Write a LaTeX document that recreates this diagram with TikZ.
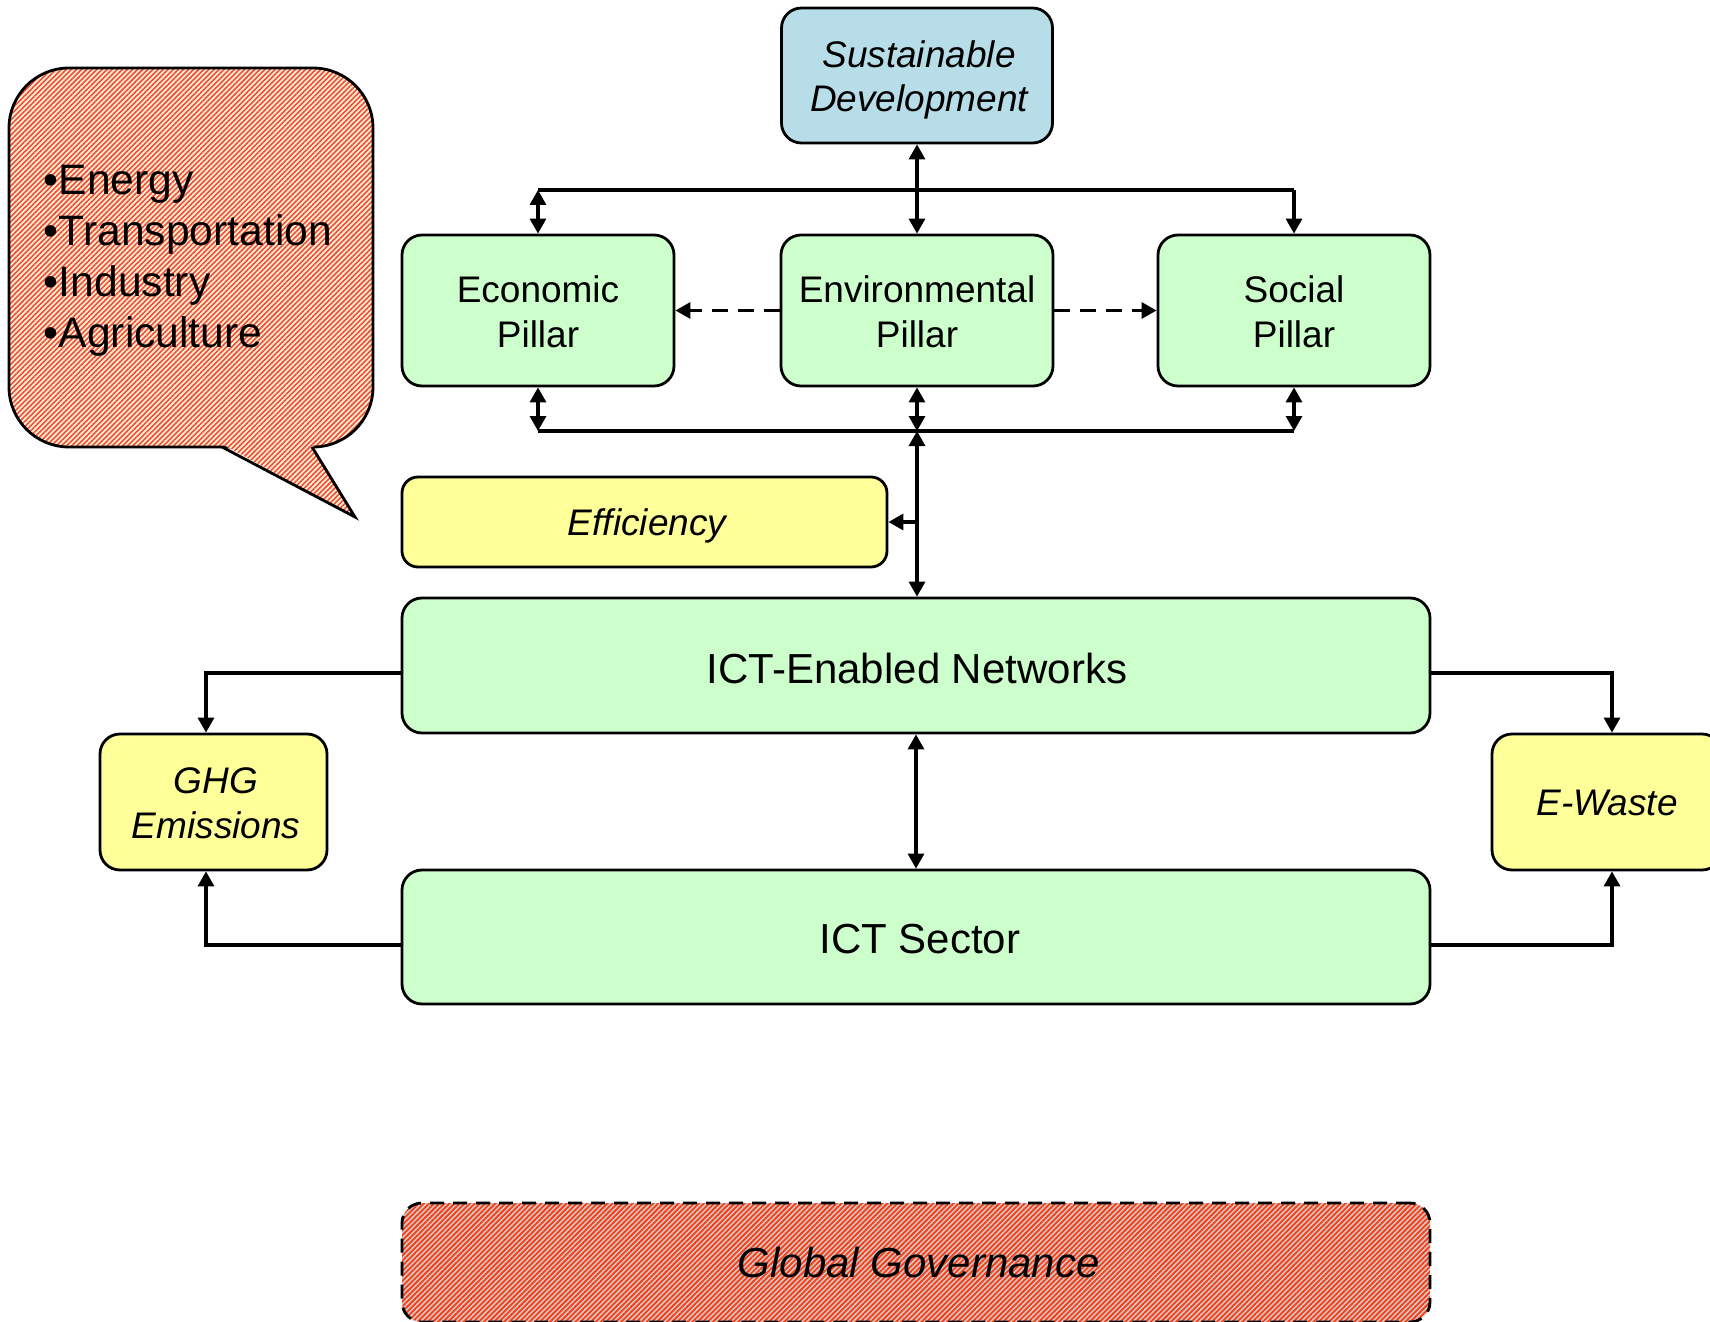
\documentclass[tikz,border=0pt]{standalone}
\usepackage{fontspec}
\setmainfont{Liberation Sans}
\usetikzlibrary{arrows.meta,patterns.meta}
\definecolor{sdblue}{HTML}{B7DEE8}
\definecolor{pgreen}{HTML}{CCFFCC}
\definecolor{pyellow}{HTML}{FFFF99}
\definecolor{stripeA}{HTML}{F04A48}
\definecolor{creamA}{HTML}{FFF2C4}
\definecolor{stripeB}{HTML}{FF3A10}
\definecolor{greyB}{HTML}{C4CCCC}
\newcommand\mvtext[3]{\raisebox{-#2}[\height][\depth]{\kern#1\begin{tabular}{@{}c@{}}#3\end{tabular}\kern-#1}}
\begin{document}
\begin{tikzpicture}[x=0.5pt,y=-0.5pt,
  >={Triangle[length=7.5pt,width=8pt]},
  box/.style={draw, line width=1.4pt, rounded corners=10pt, inner sep=0pt},
  midtext/.style={font=\fontsize{18.5}{22.4}\selectfont},
  bigtext/.style={font=\fontsize{21}{25}\selectfont},
  pillar/.style={box, fill=pgreen, minimum width=136pt, minimum height=75.5pt, midtext},
  yellowbox/.style={box, fill=pyellow, font=\fontsize{18.5}{22.4}\selectfont\itshape},
  widebox/.style={box, fill=pgreen, minimum width=514pt, minimum height=67.5pt, bigtext},
  conn/.style={line width=1.6pt},
  patA/.style={preaction={fill=creamA}, pattern={Lines[angle=45,distance=1.8pt,line width=0.8pt]}, pattern color=stripeA},
  patB/.style={preaction={fill=greyB}, pattern={Lines[angle=45,distance=1.8pt,line width=0.9pt]}, pattern color=stripeB},
]
\useasboundingbox (0,0) rectangle (1710,1322);

% callout
\path[patA, rounded corners=30pt] (9,68) rectangle (373,447);
\draw[line width=1.4pt, rounded corners=30pt] (9,68) rectangle (373,447);
\path[patA] (222,444) -- (355,517) -- (312,444) -- cycle;
\draw[line width=1.4pt, line join=miter] (222,447) -- (355,517) -- (312,447);
\node[anchor=west, align=left, inner sep=0pt, font=\fontsize{21.3}{25.5}\selectfont] (list) at (43.5,261)
  {•Energy\\•Transportation\\•Industry\\•Agriculture};

% boxes
\node[box, fill=sdblue, minimum width=135.5pt, minimum height=67.5pt, font=\fontsize{18.5}{22.4}\selectfont\itshape]
  (SD) at (917,75.5) {\mvtext{1pt}{2.5pt}{Sustainable\\Development}};
\node[pillar] (Econ) at (538,310.5) {\mvtext{0pt}{2.7pt}{Economic\\Pillar}};
\node[pillar] (Env) at (917,310.5) {\mvtext{0pt}{2.7pt}{Environmental\\Pillar}};
\node[pillar] (Social) at (1294,310.5) {\mvtext{0pt}{2.7pt}{Social\\Pillar}};
\node[yellowbox, minimum width=242.5pt, minimum height=45pt, rounded corners=8pt] (Eff) at (644.5,522) {\mvtext{1.3pt}{2.5pt}{Efficiency}};
\node[widebox] (ICTN) at (916,665.5) {\mvtext{0.5pt}{3.8pt}{ICT-Enabled Networks}};
\node[widebox, minimum height=67pt] (ICTS) at (916,937) {\mvtext{2pt}{3.2pt}{ICT Sector}};
\node[yellowbox, minimum width=113.5pt, minimum height=68pt] (GHG) at (213.5,802) {\mvtext{1.3pt}{2.7pt}{GHG\\Emissions}};
\node[yellowbox, minimum width=115pt, minimum height=68pt] (EW) at (1607,802) {\mvtext{0pt}{2.2pt}{E-Waste}};
\node[box, patB, dash pattern=on 7pt off 4.5pt, minimum width=514pt, minimum height=59.5pt,
  font=\fontsize{21}{25}\selectfont\itshape] (GG) at (916,1262.5) {\mvtext{1.3pt}{2.7pt}{Global Governance}};

% connectors top
\coordinate (tl) at (538,190);
\coordinate (tr) at (1294,190);
\draw[conn] (tl) -- (tr);
\draw[conn,<->] (tl) -- (Econ.north);
\draw[conn,->] (tr) -- (Social.north);
\draw[conn,<->] (SD.south) -- (Env.north);
\draw[conn,->, dash pattern=on 8pt off 5pt] (Env.west) -- (Econ.east);
\draw[conn,->, dash pattern=on 8pt off 5pt] (Env.east) -- (Social.west);

% connectors bottom
\coordinate (bl) at (538,431);
\coordinate (bm) at (917,431);
\coordinate (br) at (1294,431);
\draw[conn] (bl) -- (br);
\draw[conn,<->] (Econ.south) -- (bl);
\draw[conn,<->] (Env.south) -- (bm);
\draw[conn,<->] (Social.south) -- (br);
\draw[conn,<->] (bm) -- (bm |- ICTN.north);
\draw[conn,->] (bm |- Eff.east) -- (Eff.east);

% ICT
\draw[conn,<->] (ICTN.south) -- (ICTS.north);
\draw[conn,->] ([yshift=-3.75pt]ICTN.west) -| ([xshift=-3.75pt]GHG.north);
\draw[conn,->] ([yshift=-4pt]ICTS.west) -| ([xshift=-3.75pt]GHG.south);
\draw[conn,->] ([yshift=-3.75pt]ICTN.east) -| ([xshift=2.5pt]EW.north);
\draw[conn,->] ([yshift=-4pt]ICTS.east) -| ([xshift=2.5pt]EW.south);
\end{tikzpicture}
\end{document}
